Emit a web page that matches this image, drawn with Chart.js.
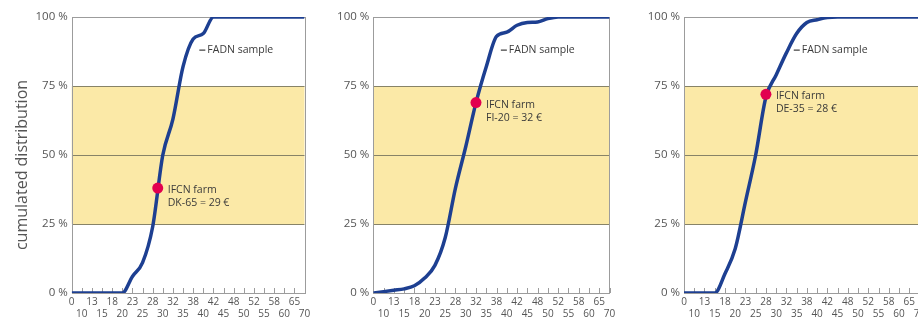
<!DOCTYPE html>
<html>
<head>
<meta charset="utf-8">
<script src="https://cdn.jsdelivr.net/npm/chart.js@4.4.1/dist/chart.umd.min.js"></script>
<style>
  html, body { margin: 0; padding: 0; background: #fff; width: 918px; height: 320px; overflow: hidden; }
  .panel { position: absolute; top: 0; height: 320px; }
</style>
</head>
<body>
<div class="panel" style="left:0;width:310px"><canvas id="c0" width="310" height="320"></canvas></div>
<div class="panel" style="left:310px;width:305px"><canvas id="c1" width="305" height="320"></canvas></div>
<div class="panel" style="left:615px;width:310px"><canvas id="c2" width="310" height="320"></canvas></div>
<script>
// cost classes (€) on the x axis, shown in two staggered rows
const xLabels = ['0', '10', '13', '15', '18', '20', '23', '25', '28', '30', '32', '35',
                 '38', '40', '42', '45', '48', '50', '52', '55', '58', '60', '65', '70'];
const yTickValues = [0, 25, 50, 75, 100];

// cumulated share of FADN farms (%)
const dkShares = [0, 0, 0, 0, 0, 0, 6, 11, 24, 50, 63, 82, 92, 94, 100, 100, 100, 100, 100, 100, 100, 100, 100, 100];
const fiShares = [0, 0.5, 1, 1.5, 2.6, 5.4, 10, 20, 38, 53, 69, 82, 93, 94.5, 97, 98, 98.2, 99.4, 100, 100, 100, 100, 100, 100];
const deShares = [0, 0, 0, 0, 7, 16, 33, 50, 71, 79, 87, 94, 98, 99, 99.8, 100, 100, 100, 100, 100, 100, 100, 100, 100];

// IFCN typical farms
const farmCodes = ['DK-65', 'FI-20', 'DE-35'];
const farmCosts = [29, 32, 28];
const farmShares = [38, 69, 72];

const FONT = "'Open Sans', sans-serif";

// cost -> position on the index axis (linear between neighbouring classes)
function costToIndex(cost) {
  const vals = xLabels.map(Number);
  for (let i = 0; i < vals.length - 1; i++) {
    if (cost >= vals[i] && cost <= vals[i + 1]) {
      return i + (cost - vals[i]) / (vals[i + 1] - vals[i]);
    }
  }
  return vals.length - 1;
}

const decor = {
  id: 'decor',
  beforeDraw(chart) {
    const { ctx, chartArea: a, scales: { y } } = chart;
    const yt = y.getPixelForValue(75), yb = y.getPixelForValue(25);
    ctx.save();
    ctx.fillStyle = '#fbe9a7';
    ctx.fillRect(a.left, yt, a.right - a.left, yb - yt);
    ctx.restore();
  },
  beforeDatasetsDraw(chart) {
    const { ctx, chartArea: a, scales: { x } } = chart;
    ctx.save();
    ctx.strokeStyle = '#9c9c9c';
    ctx.lineWidth = 1;
    ctx.strokeRect(Math.round(a.left) + 0.5, Math.round(a.top) + 0.5,
                   Math.round(a.right - a.left), Math.round(a.bottom - a.top));
    // small tick marks standing on the x axis
    ctx.beginPath();
    for (let i = 0; i < xLabels.length; i++) {
      const px = Math.round(x.getPixelForValue(i)) + 0.5;
      ctx.moveTo(px, a.bottom);
      ctx.lineTo(px, a.bottom - 5);
    }
    ctx.stroke();
    ctx.restore();
  },
  afterDraw(chart, args, opts) {
    const { ctx, scales: { x, y } } = chart;
    ctx.save();
    if (opts.title) {
      ctx.translate(22, 165);
      ctx.rotate(-Math.PI / 2);
      ctx.fillStyle = '#555';
      ctx.font = '16px ' + FONT;
      ctx.textAlign = 'center';
      ctx.textBaseline = 'middle';
      ctx.fillText(opts.title, 0, 0);
      ctx.setTransform(1, 0, 0, 1, 0, 0);
    }
    ctx.fillStyle = '#3a3a3a';
    ctx.strokeStyle = '#3a3a3a';
    ctx.font = '10.5px ' + FONT;
    ctx.textAlign = 'left';
    ctx.textBaseline = 'middle';
    // FADN sample label with leader
    const sx = x.getPixelForValue(opts.sampleAt), sy = y.getPixelForValue(88);
    ctx.lineWidth = 1.2;
    ctx.beginPath();
    ctx.moveTo(sx - 8, sy);
    ctx.lineTo(sx - 2, sy);
    ctx.stroke();
    ctx.fillText('FADN sample', sx, sy);
    // IFCN farm label
    const pt = chart.getDatasetMeta(0).data[0];
    ctx.fillText('IFCN farm', pt.x + 10, pt.y + 2);
    ctx.fillText(opts.farm, pt.x + 10, pt.y + 15);
    ctx.restore();
  }
};

const panels = [
  { id: 'c0', shares: dkShares, axisWidth: 71.7, title: 'cumulated distribution', sampleAt: 13.4 },
  { id: 'c1', shares: fiShares, axisWidth: 63.3, title: '', sampleAt: 13.2 },
  { id: 'c2', shares: deShares, axisWidth: 69, title: '', sampleAt: 11.5 }
];

panels.forEach((p, k) => {
  new Chart(document.getElementById(p.id), {
    type: 'line',
    data: {
      datasets: [
        {
          data: [{ x: costToIndex(farmCosts[k]), y: farmShares[k] }],
          showLine: false,
          pointRadius: 5.5,
          pointBackgroundColor: '#e2004f',
          pointBorderWidth: 0
        },
        {
          data: p.shares.map((v, i) => ({ x: i, y: v })),
          borderColor: '#1d3f91',
          borderWidth: 3.5,
          pointRadius: 0,
          cubicInterpolationMode: 'monotone',
          fill: false
        }
      ]
    },
    options: {
      responsive: false,
      animation: false,
      events: [],
      layout: { padding: { top: 17, right: 3.3, left: 0, bottom: 0 } },
      plugins: {
        legend: { display: false },
        tooltip: { enabled: false },
        decor: { title: p.title, sampleAt: p.sampleAt, farm: `${farmCodes[k]} = ${farmCosts[k]} €` }
      },
      scales: {
        x: {
          type: 'linear',
          min: 0,
          max: xLabels.length - 1,
          grid: { display: false, drawTicks: false },
          border: { display: false },
          afterFit: s => { s.height = 27; s.paddingLeft = 0; s.paddingRight = 0; },
          afterBuildTicks: s => { s.ticks = xLabels.map((_, i) => ({ value: i })); },
          ticks: {
            autoSkip: false,
            maxRotation: 0,
            minRotation: 0,
            padding: 3.5,
            color: '#555',
            font: { family: FONT, size: 10, lineHeight: 1.15 },
            callback: v => (v % 2 === 0 ? [xLabels[v]] : ['', xLabels[v]])
          }
        },
        y: {
          min: 0,
          max: 100,
          afterFit: s => { s.width = p.axisWidth; },
          afterBuildTicks: s => { s.ticks = yTickValues.map(v => ({ value: v })); },
          grid: {
            drawTicks: false,
            color: c => (c.tick && c.tick.value > 0 && c.tick.value < 100 ? '#878367' : 'rgba(0,0,0,0)')
          },
          border: { display: false },
          ticks: {
            padding: 4,
            color: '#555',
            font: { family: FONT, size: 11.5 },
            callback: v => v + ' %'
          }
        }
      }
    },
    plugins: [decor]
  });
});
</script>
</body>
</html>
